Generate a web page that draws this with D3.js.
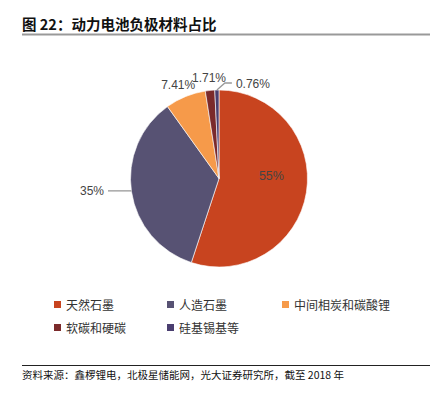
<!DOCTYPE html>
<html>
<head>
<meta charset="utf-8">
<script src="https://cdn.jsdelivr.net/npm/d3@7"></script>
<style>
  body { margin: 0; background: #fff; }
  text { font-family: "Liberation Sans", Arial, sans-serif; }
  .cjk { font-family: "Noto Sans CJK SC", sans-serif; }
</style>
</head>
<body>
<script>
const categories = ["天然石墨", "人造石墨", "中间相炭和碳酸锂", "软碳和硬碳", "硅基锡基等"];
const values = [55, 35, 7.41, 1.71, 0.76];
const valueLabels = ["55%", "35%", "7.41%", "1.71%", "0.76%"];
const colors = ["#c8441f", "#575273", "#f69a4a", "#7b2a2b", "#4a3e70"];

const w = 442, h = 399;
const cx = 219, cy = 178.5, r = 88.5;

const svg = d3.select("body").append("svg")
  .attr("width", w).attr("height", h);

// title
svg.append("text").attr("class", "cjk")
  .attr("x", 22).attr("y", 30)
  .attr("font-size", 14.5).attr("font-weight", "bold").attr("fill", "#111")
  .text("图 22：动力电池负极材料占比");
svg.append("line")
  .attr("x1", 22).attr("x2", 430).attr("y1", 34.5).attr("y2", 34.5)
  .attr("stroke", "#999").attr("stroke-width", 2);

const data = categories.map((c, i) => ({ name: c, value: values[i], label: valueLabels[i], color: colors[i] }));

const pie = d3.pie().sort(null).value(d => d.value);
const arc = d3.arc().innerRadius(0).outerRadius(r);
const arcs = pie(data);

const g = svg.append("g").attr("transform", `translate(${cx},${cy})`);

g.selectAll("path")
  .data(arcs)
  .enter()
  .append("path")
  .attr("d", arc)
  .attr("fill", d => d.data.color)
  .attr("stroke", "#fff")
  .attr("stroke-width", 0.6);

// labels
const mid = d => (d.startAngle + d.endAngle) / 2;
const pt = (a, rad) => [Math.sin(a) * rad, -Math.cos(a) * rad];

// 55% inside
const p0 = pt(mid(arcs[0]), r * 0.6);
g.append("text").attr("x", p0[0]).attr("y", p0[1] - 6.5)
  .attr("text-anchor", "middle").attr("font-size", 12.5).attr("fill", "#444")
  .text(arcs[0].data.label);

// 35% left with leader
const e1 = pt(mid(arcs[1]), r);
g.append("line")
  .attr("x1", e1[0]).attr("y1", e1[1] - 1)
  .attr("x2", -111).attr("y2", e1[1] - 1)
  .attr("stroke", "#999").attr("stroke-width", 1.3);
g.append("text").attr("x", -115).attr("y", e1[1] + 3.5)
  .attr("text-anchor", "end").attr("font-size", 12).attr("fill", "#444")
  .text(arcs[1].data.label);

// 7.41%
const p2 = pt(mid(arcs[2]), r + 14);
g.append("text").attr("x", p2[0] - 2).attr("y", p2[1] + 5)
  .attr("text-anchor", "middle").attr("font-size", 12).attr("fill", "#444")
  .text(arcs[2].data.label);

// 1.71%
g.append("text").attr("x", -10).attr("y", -r - 8)
  .attr("text-anchor", "middle").attr("font-size", 12).attr("fill", "#444")
  .text(arcs[3].data.label);

// 0.76% with leader
const e4 = pt(mid(arcs[4]), r);
g.append("polyline")
  .attr("points", [[e4[0], e4[1]], [e4[0] + 8, -r - 7], [e4[0] + 15, -r - 7]].map(p => p.join(",")).join(" "))
  .attr("fill", "none").attr("stroke", "#999").attr("stroke-width", 1.3);
g.append("text").attr("x", e4[0] + 19).attr("y", -r - 2.5)
  .attr("font-size", 12).attr("fill", "#444")
  .text(arcs[4].data.label);

// legend
const legendPos = [[54, 305], [167, 305], [282, 305], [54, 328], [167, 328]];
const legend = svg.selectAll("g.legend")
  .data(data)
  .enter()
  .append("g")
  .attr("class", "legend")
  .attr("transform", (d, i) => `translate(${legendPos[i][0]},${legendPos[i][1]})`);
legend.append("rect")
  .attr("x", 0).attr("y", -4).attr("width", 7).attr("height", 7)
  .attr("fill", d => d.color);
legend.append("text").attr("class", "cjk")
  .attr("x", 12).attr("y", 4.5)
  .attr("font-size", 12).attr("fill", "#333")
  .text(d => d.name);

// footer
svg.append("line")
  .attr("x1", 22).attr("x2", 430).attr("y1", 365.5).attr("y2", 365.5)
  .attr("stroke", "#222").attr("stroke-width", 1);
svg.append("text").attr("class", "cjk")
  .attr("x", 22).attr("y", 379)
  .attr("font-size", 10.5).attr("fill", "#111")
  .text("资料来源：鑫椤锂电，北极星储能网，光大证券研究所，截至 2018 年");
</script>
</body>
</html>
